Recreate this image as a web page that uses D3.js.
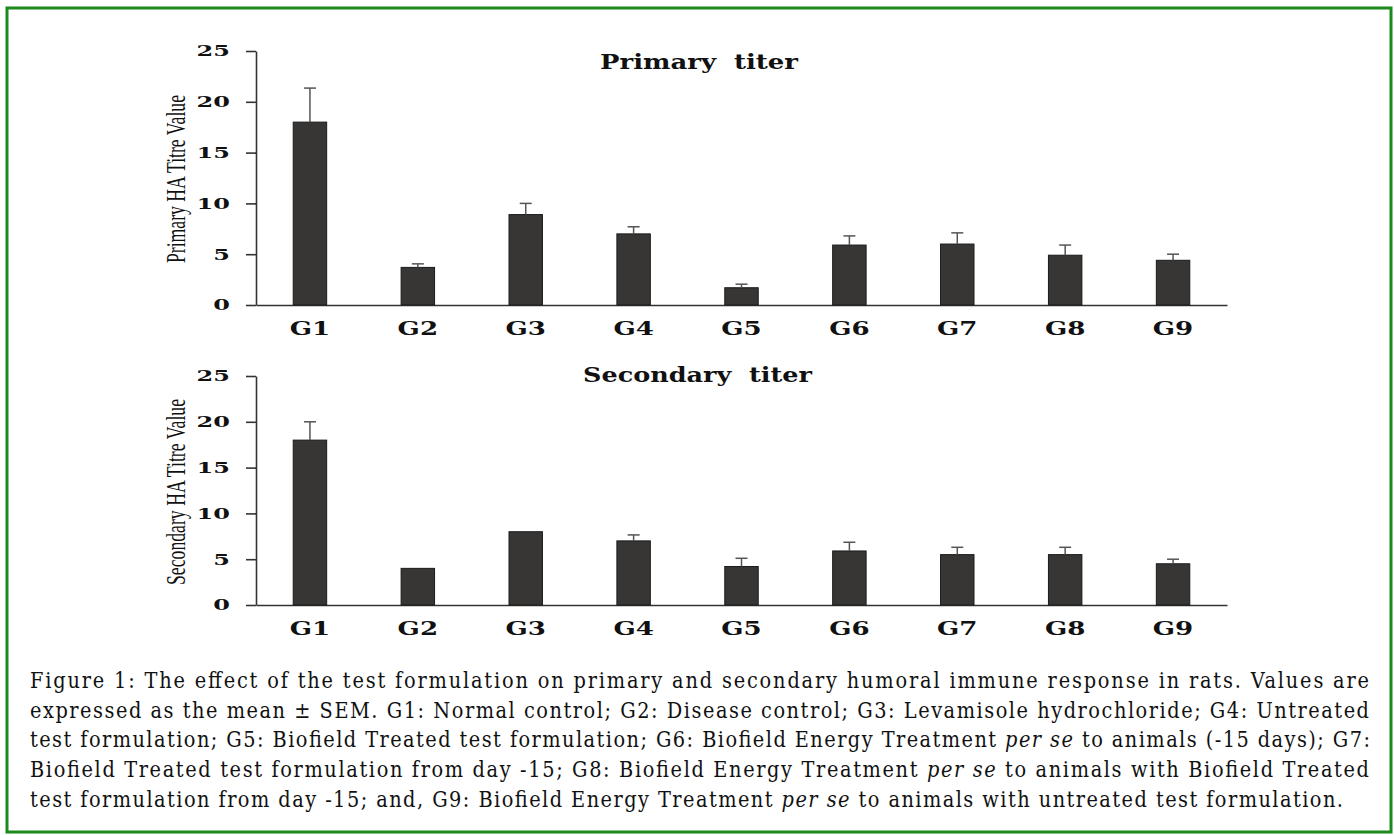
<!DOCTYPE html>
<html>
<head>
<meta charset="utf-8">
<script src="https://cdn.jsdelivr.net/npm/d3@7"></script>
<style>
  body { margin: 0; background: #fff; }
  svg { display: block; }
</style>
</head>
<body>
<svg id="fig" width="1394" height="835"></svg>
<script>
// groups and values (mean and SEM)
var groups = ["G1", "G2", "G3", "G4", "G5", "G6", "G7", "G8", "G9"];
var primaryMean = [18, 3.7, 8.9, 7, 1.7, 5.9, 6, 4.9, 4.4];
var primarySem = [3.35, 0.35, 1.1, 0.7, 0.35, 0.9, 1.1, 1.0, 0.6];
var secondaryMean = [18, 4, 8, 7, 4.2, 5.9, 5.5, 5.5, 4.5];
var secondarySem = [2, 0, 0, 0.65, 0.9, 0.95, 0.8, 0.8, 0.5];
var yTicks = [0, 5, 10, 15, 20, 25];

var captionLines = [
  [["Figure 1: The effect of the test formulation on primary and secondary humoral immune response in rats. Values are", false]],
  [["expressed as the mean \u00b1 SEM. G1: Normal control; G2: Disease control; G3: Levamisole hydrochloride; G4: Untreated", false]],
  [["test formulation; G5: Biofield Treated test formulation; G6: Biofield Energy Treatment ", false], ["per se", true], [" to animals (-15 days); G7:", false]],
  [["Biofield Treated test formulation from day -15; G8: Biofield Energy Treatment ", false], ["per se", true], [" to animals with Biofield Treated", false]],
  [["test formulation from day -15; and, G9: Biofield Energy Treatment ", false], ["per se", true], [" to animals with untreated test formulation.", false]]
];

var svg = d3.select("#fig");

// green frame
svg.append("rect")
  .attr("x", 7).attr("y", 8)
  .attr("width", 1384).attr("height", 824)
  .attr("fill", "none")
  .attr("stroke", "#1d8a1d")
  .attr("stroke-width", 3);

var x = d3.scaleBand()
  .domain(groups)
  .range([256, 1227])
  .paddingInner(0.69)
  .paddingOuter(0.345);

function drawPanel(opts) {
  var y = d3.scaleLinear().domain([0, 25]).range([opts.bottom, opts.top]);
  var g = svg.append("g");

  // y axis
  var ya = g.append("g")
    .attr("transform", "translate(256,0)")
    .call(d3.axisLeft(y).tickValues(yTicks).tickSize(10).tickSizeOuter(0));
  ya.selectAll("text")
    .attr("x", -26 / 1.6)
    .attr("transform", "scale(1.6,1)")
    .style("font-family", "DejaVu Serif")
    .style("font-weight", "bold")
    .style("font-size", "15px")
    .attr("fill", "#111");

  // x axis
  var xa = g.append("g")
    .attr("transform", "translate(0," + opts.bottom + ")")
    .call(d3.axisBottom(x).tickSize(0).tickSizeOuter(0));
  xa.selectAll("text")
    .attr("y", 30).attr("dy", 0)
    .attr("transform", "scale(1.45,1)")
    .style("font-family", "DejaVu Serif")
    .style("font-weight", "bold")
    .style("font-size", "18px")
    .attr("fill", "#111");

  g.selectAll(".domain, .tick line")
    .attr("stroke", "#333")
    .attr("stroke-width", 1.6);

  // bars
  g.selectAll(".bar")
    .data(groups)
    .enter().append("rect")
    .attr("class", "bar")
    .attr("x", d => x(d))
    .attr("y", (d, i) => y(opts.mean[i]))
    .attr("width", x.bandwidth())
    .attr("height", (d, i) => y(0) - y(opts.mean[i]))
    .attr("fill", "#383634")
    .attr("stroke", "#1a1a1a")
    .attr("stroke-width", 1);

  // error bars (upper only)
  var eb = g.selectAll(".err")
    .data(groups.filter((d, i) => opts.sem[i] > 0))
    .enter().append("g")
    .attr("class", "err");
  eb.append("line")
    .attr("x1", d => x(d) + x.bandwidth() / 2)
    .attr("x2", d => x(d) + x.bandwidth() / 2)
    .attr("y1", d => y(opts.mean[groups.indexOf(d)]))
    .attr("y2", d => { var i = groups.indexOf(d); return y(opts.mean[i] + opts.sem[i]); })
    .attr("stroke", "#555").attr("stroke-width", 1.5);
  eb.append("line")
    .attr("x1", d => x(d) + x.bandwidth() / 2 - 6)
    .attr("x2", d => x(d) + x.bandwidth() / 2 + 6)
    .attr("y1", d => { var i = groups.indexOf(d); return y(opts.mean[i] + opts.sem[i]); })
    .attr("y2", d => { var i = groups.indexOf(d); return y(opts.mean[i] + opts.sem[i]); })
    .attr("stroke", "#555").attr("stroke-width", 1.5);

  // title
  g.append("text")
    .attr("x", opts.titleX).attr("y", opts.titleY)
    .attr("textLength", opts.titleLen)
    .attr("lengthAdjust", "spacingAndGlyphs")
    .style("white-space", "pre")
    .style("font-family", "DejaVu Serif")
    .style("font-weight", "bold")
    .style("font-size", "21px")
    .attr("fill", "#111")
    .text(opts.title);

  // y label (rotated, stretched like the source)
  g.append("text")
    .attr("transform", "translate(" + opts.labelX + "," + opts.labelY + ") scale(1.6,1) rotate(-90)")
    .attr("text-anchor", "middle")
    .attr("textLength", opts.labelLen)
    .attr("lengthAdjust", "spacingAndGlyphs")
    .style("font-family", "Liberation Serif")
    .style("font-size", "17px")
    .attr("fill", "#111")
    .text(opts.label);
}

drawPanel({
  top: 51, bottom: 305,
  mean: primaryMean, sem: primarySem,
  title: "Primary  titer", titleX: 600, titleY: 69, titleLen: 198,
  label: "Primary  HA Titre Value", labelX: 185, labelY: 179, labelLen: 168
});

drawPanel({
  top: 376, bottom: 605,
  mean: secondaryMean, sem: secondarySem,
  title: "Secondary  titer", titleX: 583, titleY: 382, titleLen: 229,
  label: "Secondary HA Titre Value", labelX: 185, labelY: 492, labelLen: 186
});

// caption
var lineEnds = [1369, 1369, 1370, 1369, 1343];
var cap = svg.append("g")
  .style("font-family", "'DejaVu Serif Condensed', 'DejaVu Serif'")
  .style("font-stretch", "condensed")
  .style("font-size", "21.5px")
  .attr("fill", "#111");
captionLines.forEach(function (segs, i) {
  var t = cap.append("text")
    .attr("x", 30)
    .attr("y", 688 + i * 29.7)
    .attr("textLength", lineEnds[i] - 30)
    .attr("lengthAdjust", "spacing")
    .style("white-space", "pre");
  segs.forEach(function (s) {
    t.append("tspan")
      .style("font-style", s[1] ? "italic" : "normal")
      .text(s[0]);
  });
});
</script>
</body>
</html>
